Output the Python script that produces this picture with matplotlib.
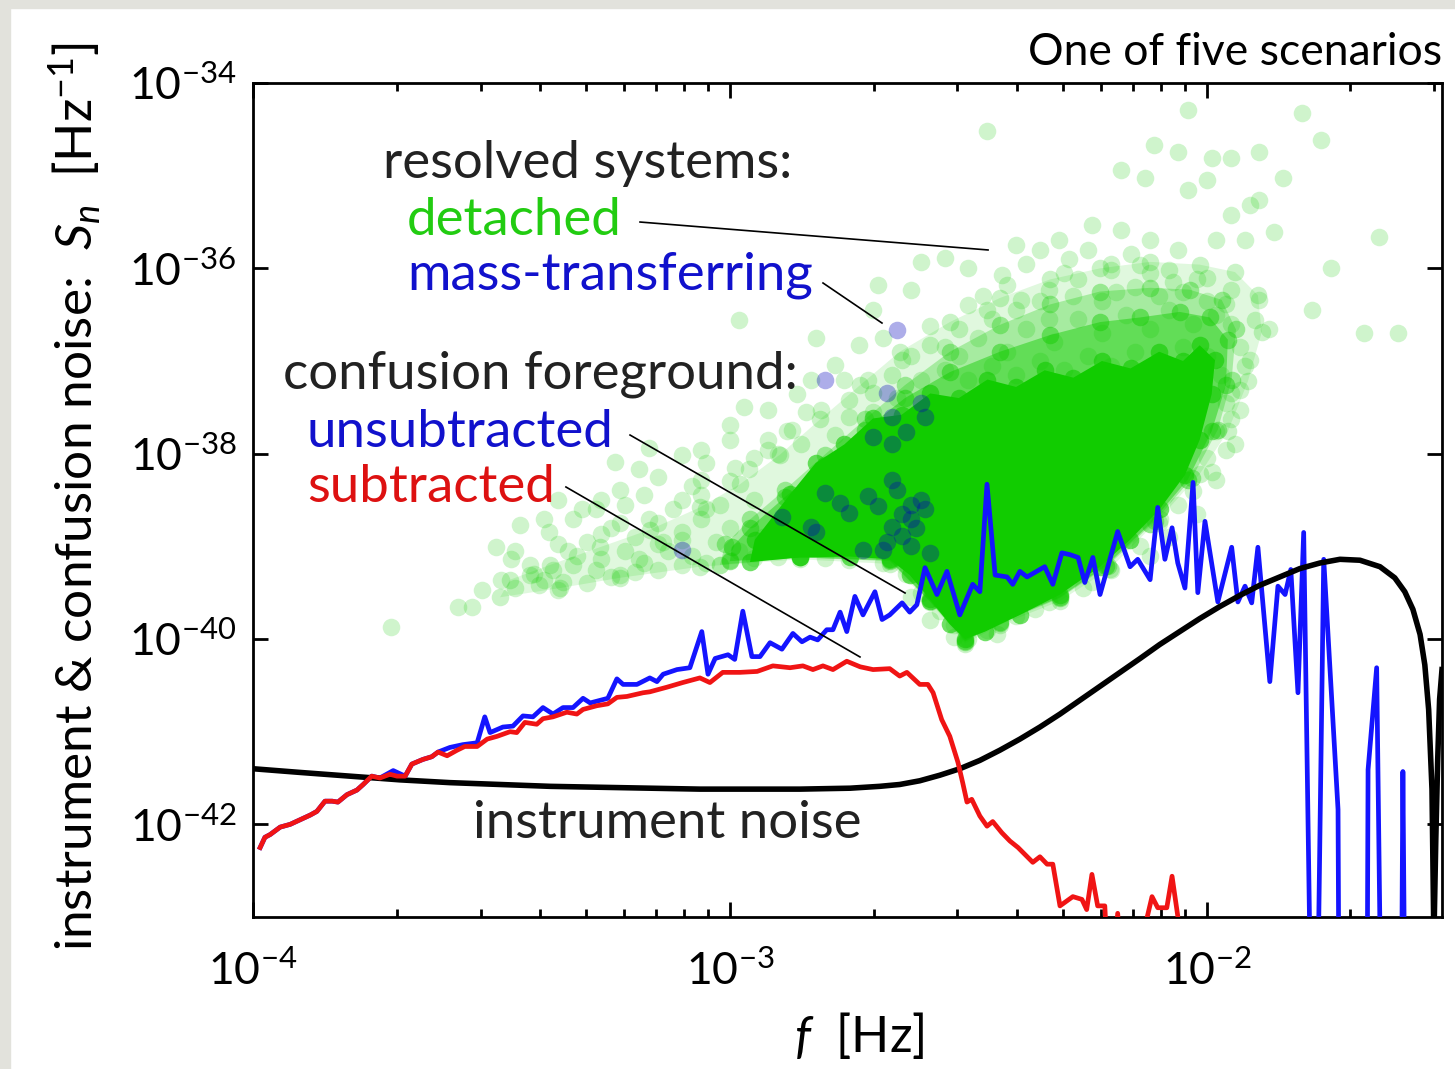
import matplotlib
matplotlib.use('Agg')
import matplotlib.pyplot as plt
import numpy as np
from matplotlib.patches import Rectangle
from matplotlib.ticker import LogLocator, NullLocator, NullFormatter

plt.rcParams['font.family'] = ['Lato', 'DejaVu Sans']
plt.rcParams['mathtext.fontset'] = 'custom'
plt.rcParams['mathtext.rm'] = 'Lato'
plt.rcParams['mathtext.it'] = 'Lato:italic'
plt.rcParams['mathtext.bf'] = 'Lato:bold'

# ---- data (log10 f [Hz], log10 S_n [1/Hz]) ----
subtracted = [
    (-3.985, -42.25), (-3.975, -42.14), (-3.964, -42.11), (-3.943, -42.03), (-3.922, -42.00),
    (-3.901, -41.95), (-3.880, -41.90), (-3.866, -41.86), (-3.849, -41.75), (-3.834, -41.75),
    (-3.822, -41.76), (-3.803, -41.68), (-3.782, -41.63), (-3.769, -41.57), (-3.751, -41.48),
    (-3.734, -41.50), (-3.713, -41.46), (-3.698, -41.48), (-3.681, -41.48), (-3.667, -41.35),
    (-3.644, -41.30), (-3.625, -41.27), (-3.612, -41.22), (-3.593, -41.26), (-3.572, -41.20),
    (-3.556, -41.16), (-3.530, -41.16), (-3.509, -41.08), (-3.488, -41.05), (-3.461, -41.00),
    (-3.447, -41.01), (-3.430, -40.90), (-3.405, -40.92), (-3.392, -40.86), (-3.371, -40.84),
    (-3.342, -40.79), (-3.321, -40.81), (-3.308, -40.76), (-3.279, -40.72), (-3.256, -40.70),
    (-3.237, -40.63), (-3.216, -40.62), (-3.182, -40.58), (-3.168, -40.57), (-3.132, -40.52),
    (-3.099, -40.47), (-3.063, -40.42), (-3.042, -40.47), (-3.015, -40.36), (-2.979, -40.36),
    (-2.943, -40.35), (-2.910, -40.29), (-2.874, -40.31), (-2.847, -40.29), (-2.826, -40.33),
    (-2.805, -40.29), (-2.784, -40.33), (-2.755, -40.24), (-2.727, -40.30), (-2.700, -40.33),
    (-2.665, -40.32), (-2.644, -40.40), (-2.629, -40.36), (-2.602, -40.49), (-2.585, -40.49),
    (-2.574, -40.58), (-2.556, -40.87), (-2.539, -41.05), (-2.522, -41.33), (-2.512, -41.55),
    (-2.503, -41.76), (-2.493, -41.73), (-2.476, -41.91), (-2.461, -42.02), (-2.449, -41.97),
    (-2.430, -42.09), (-2.413, -42.18), (-2.396, -42.25), (-2.365, -42.41), (-2.350, -42.35),
    (-2.335, -42.43), (-2.323, -42.43), (-2.308, -42.88), (-2.281, -42.78), (-2.262, -42.81),
    (-2.252, -42.92), (-2.241, -42.54), (-2.229, -42.88), (-2.214, -42.88), (-2.203, -44.0),
    (-2.187, -42.96), (-2.172, -44.0), (-2.140, -44.0), (-2.126, -43.02), (-2.115, -42.78),
    (-2.103, -42.90), (-2.084, -42.90), (-2.073, -42.56), (-2.061, -42.99), (-2.052, -44.0),
]

unsubtracted = subtracted[:16] + [
    (-3.706, -41.42), (-3.681, -41.48), (-3.667, -41.35), (-3.644, -41.30), (-3.625, -41.27),
    (-3.612, -41.22), (-3.587, -41.17), (-3.560, -41.14), (-3.530, -41.12), (-3.514, -40.84),
    (-3.503, -41.01), (-3.476, -40.95), (-3.455, -40.94), (-3.434, -40.83), (-3.413, -40.84),
    (-3.392, -40.74), (-3.371, -40.81), (-3.350, -40.74), (-3.329, -40.74), (-3.308, -40.64),
    (-3.293, -40.69), (-3.256, -40.64), (-3.237, -40.43), (-3.224, -40.49), (-3.195, -40.49),
    (-3.168, -40.42), (-3.153, -40.46), (-3.140, -40.38), (-3.111, -40.33), (-3.084, -40.31),
    (-3.059, -39.92), (-3.046, -40.38), (-3.031, -40.21), (-3.004, -40.17), (-2.990, -40.22),
    (-2.973, -39.70), (-2.954, -40.19), (-2.937, -40.19), (-2.916, -40.04), (-2.891, -40.11),
    (-2.868, -39.94), (-2.849, -40.03), (-2.832, -39.98), (-2.816, -40.01), (-2.797, -39.90),
    (-2.784, -39.90), (-2.769, -39.71), (-2.755, -39.92), (-2.738, -39.54), (-2.721, -39.74),
    (-2.696, -39.49), (-2.681, -39.79), (-2.665, -39.74), (-2.639, -39.61), (-2.623, -39.71),
    (-2.608, -39.63), (-2.591, -39.23), (-2.566, -39.52), (-2.545, -39.27), (-2.518, -39.74),
    (-2.491, -39.41), (-2.476, -39.49), (-2.461, -38.33), (-2.444, -39.31), (-2.419, -39.33),
    (-2.407, -39.41), (-2.392, -39.27), (-2.377, -39.33), (-2.340, -39.22), (-2.323, -39.41),
    (-2.304, -39.07), (-2.287, -39.09), (-2.270, -39.12), (-2.256, -39.39), (-2.239, -39.12),
    (-2.224, -39.52), (-2.187, -38.84), (-2.161, -39.22), (-2.145, -39.14), (-2.119, -39.36),
    (-2.103, -38.58), (-2.088, -39.14), (-2.073, -38.80), (-2.061, -39.18), (-2.046, -39.45),
    (-2.029, -38.31), (-2.019, -39.50), (-2.004, -38.73), (-1.977, -39.60), (-1.948, -39.01),
    (-1.935, -39.60), (-1.920, -39.43), (-1.906, -39.61), (-1.893, -39.01), (-1.868, -40.46),
    (-1.851, -39.43), (-1.836, -39.52), (-1.824, -39.25), (-1.809, -40.58), (-1.797, -38.85),
    (-1.782, -44.0), (-1.768, -44.0), (-1.755, -39.14), (-1.725, -41.84), (-1.723, -44.0),
    (-1.664, -44.0), (-1.662, -41.41), (-1.644, -40.31), (-1.635, -44.0), (-1.592, -44.0),
    (-1.589, -41.43), (-1.585, -44.0),
]

instrument = [
    (-4.000, -41.40), (-3.901, -41.44), (-3.797, -41.48), (-3.692, -41.52), (-3.587, -41.55),
    (-3.482, -41.57), (-3.377, -41.59), (-3.273, -41.60), (-3.168, -41.61), (-3.063, -41.62),
    (-2.958, -41.62), (-2.853, -41.62), (-2.748, -41.61), (-2.686, -41.59), (-2.644, -41.57),
    (-2.602, -41.53), (-2.560, -41.47), (-2.518, -41.40), (-2.476, -41.31), (-2.434, -41.20),
    (-2.392, -41.08), (-2.350, -40.95), (-2.308, -40.81), (-2.266, -40.66), (-2.224, -40.51),
    (-2.182, -40.36), (-2.140, -40.21), (-2.099, -40.06), (-2.057, -39.92), (-2.015, -39.78),
    (-1.973, -39.65), (-1.931, -39.53), (-1.889, -39.42), (-1.847, -39.33), (-1.805, -39.24),
    (-1.763, -39.18), (-1.721, -39.14), (-1.679, -39.15), (-1.637, -39.22), (-1.606, -39.34),
    (-1.585, -39.49), (-1.568, -39.68), (-1.553, -39.95), (-1.543, -40.28), (-1.535, -40.76),
    (-1.528, -41.62), (-1.524, -43.24), (-1.520, -42.16), (-1.516, -41.30), (-1.512, -40.65),
    (-1.507, -40.33),
]

# density outlines of the detached-binary cloud, from sparse to saturated
detached_outer = [
    (-3.482, -39.55), (-3.356, -39.45), (-3.231, -39.34), (-3.063, -39.22), (-2.853, -39.14),
    (-2.665, -39.19), (-2.581, -39.60), (-2.507, -40.05), (-2.434, -39.85), (-2.308, -39.59),
    (-2.203, -39.24), (-2.099, -38.70), (-2.015, -38.22), (-1.956, -37.76), (-1.914, -37.22),
    (-1.885, -36.69), (-1.893, -36.29), (-1.941, -36.04), (-2.015, -35.96), (-2.119, -35.93),
    (-2.224, -36.00), (-2.329, -36.12), (-2.434, -36.32), (-2.539, -36.58), (-2.644, -36.90),
    (-2.727, -37.26), (-2.811, -37.63), (-2.895, -38.01), (-2.979, -38.33), (-3.063, -38.58),
    (-3.168, -38.82), (-3.273, -39.01), (-3.377, -39.20), (-3.461, -39.36),
]

detached_dense = [
    (-3.021, -39.20), (-2.853, -39.12), (-2.665, -39.16), (-2.581, -39.59), (-2.507, -40.03),
    (-2.434, -39.83), (-2.308, -39.56), (-2.208, -39.21), (-2.109, -38.73), (-2.031, -38.26),
    (-1.977, -37.74), (-1.948, -37.20), (-1.939, -36.66), (-1.969, -36.34), (-2.036, -36.23),
    (-2.119, -36.21), (-2.224, -36.25), (-2.329, -36.39), (-2.434, -36.61), (-2.539, -36.90),
    (-2.633, -37.26), (-2.717, -37.63), (-2.801, -38.01), (-2.885, -38.39), (-2.958, -38.71),
    (-3.010, -38.98),
]

detached_heavy = [
    (-3.000, -39.16), (-2.853, -39.12), (-2.665, -39.15), (-2.581, -39.59), (-2.507, -40.02),
    (-2.434, -39.82), (-2.308, -39.55), (-2.212, -39.21), (-2.119, -38.76), (-2.040, -38.28),
    (-1.990, -37.76), (-1.960, -37.26), (-1.956, -36.77), (-1.994, -36.53), (-2.057, -36.47),
    (-2.140, -36.53), (-2.224, -36.58), (-2.329, -36.72), (-2.434, -36.90), (-2.539, -37.12),
    (-2.633, -37.40), (-2.717, -37.74), (-2.801, -38.12), (-2.885, -38.47), (-2.958, -38.80),
    (-2.996, -39.01),
]

detached_core = [
    (-2.958, -39.17), (-2.853, -39.12), (-2.748, -39.11), (-2.665, -39.14),
    (-2.623, -39.31), (-2.581, -39.57), (-2.539, -39.84), (-2.507, -40.00), (-2.465, -39.92),
    (-2.392, -39.74), (-2.308, -39.52), (-2.224, -39.22), (-2.161, -38.93), (-2.099, -38.60),
    (-2.046, -38.23), (-2.015, -37.85), (-1.990, -37.36), (-1.983, -36.99), (-2.015, -36.83),
    (-2.050, -37.00), (-2.100, -36.90), (-2.160, -37.08), (-2.220, -37.00), (-2.280, -37.18),
    (-2.340, -37.10), (-2.400, -37.28), (-2.460, -37.20), (-2.520, -37.40), (-2.580, -37.35),
    (-2.640, -37.58), (-2.700, -37.62), (-2.760, -37.90), (-2.820, -38.10), (-2.874, -38.44),
    (-2.948, -38.93),
]

detached = [
    # sparse outliers
    (-2.46, -34.52), (-2.04, -34.29), (-1.80, -34.32), (-2.11, -34.67), (-2.06, -34.74),
    (-1.99, -34.81), (-1.95, -34.81), (-1.89, -34.74), (-1.76, -34.62), (-1.84, -35.02),
    (-1.89, -35.26), (-2.18, -34.94), (-2.13, -35.02), (-2.04, -35.15), (-2.00, -35.05),
    (-1.95, -35.42), (-1.91, -35.32), (-1.86, -35.61), (-1.64, -35.66), (-1.74, -36.00),
    (-1.78, -36.45), (-1.67, -36.70), (-1.60, -36.70), (-1.92, -35.69), (-1.98, -35.69),
    (-2.06, -35.80), (-2.12, -35.69), (-2.18, -35.59), (-2.24, -35.53), (-2.31, -35.69),
    (-2.35, -35.80), (-2.40, -35.75), (-2.43, -36.07), (-2.50, -36.00), (-2.55, -35.89),
    (-2.60, -35.93), (-2.62, -36.23), (-2.69, -36.18), (-2.70, -36.45), (-2.73, -36.83),
    (-2.78, -37.04), (-2.83, -37.20), (-2.86, -37.36), (-2.92, -37.53), (-2.98, -36.56),
    (-2.82, -36.75), (-2.97, -37.50), (-3.00, -37.69), (-3.00, -37.85), (-3.06, -37.96),
    (-3.10, -38.01), (-3.17, -37.94), (-3.19, -38.17), (-3.24, -38.09), (-3.23, -38.39),
    (-3.27, -38.50), (-3.31, -38.60), (-3.36, -38.50), (-3.39, -38.71), (-3.44, -38.77),
    (-3.49, -39.01), (-3.46, -39.14), (-3.42, -39.31), (-3.39, -39.36), (-3.36, -39.47),
    (-3.48, -39.36), (-3.52, -39.47), (-3.57, -39.66), (-3.54, -39.66), (-3.71, -39.87),
    # low-frequency band
    (-3.33, -39.20), (-3.27, -39.14), (-3.23, -39.31), (-3.19, -39.14), (-3.15, -38.98),
    (-3.10, -38.93), (-3.06, -38.71), (-3.02, -38.55), (-3.17, -38.71), (-3.27, -38.87),
    (-3.36, -38.98), (-3.10, -38.50), (-3.06, -38.28), (-2.96, -38.17), (-2.92, -37.96),
    (-2.87, -37.74), (-2.81, -37.53), (-2.75, -37.42), (-2.71, -37.20), (-2.64, -36.99),
    (-2.58, -36.83), (-2.52, -36.66), (-2.46, -36.45), (-2.39, -36.34), (-2.33, -36.23),
    (-2.27, -36.12), (-2.20, -36.02), (-2.14, -35.96), (-2.08, -36.02), (-2.02, -36.12),
    (-1.95, -36.23), (-1.89, -36.34), (-1.87, -36.66), (-1.91, -36.99), (-1.93, -37.31),
    (-1.95, -37.63), (-1.96, -37.96), (-1.98, -38.28), (-1.93, -37.53), (-1.90, -36.56),
    (-3.45, -39.45), (-3.40, -39.42), (-3.35, -39.38), (-3.30, -39.40), (-3.25, -39.33),
    (-3.20, -39.28), (-3.15, -39.25), (-3.10, -39.20), (-3.05, -39.18), (-3.00, -39.15),
    (-2.95, -39.13), (-2.90, -39.12), (-3.42, -39.20), (-3.37, -39.25), (-3.32, -39.10),
    (-3.28, -39.25), (-3.22, -39.05), (-3.18, -39.18), (-3.13, -39.05), (-3.08, -39.10),
    (-3.03, -38.95), (-2.98, -39.05), (-2.93, -38.90), (-3.30, -38.95), (-3.25, -38.80),
    (-3.20, -38.90), (-3.15, -38.75), (-3.10, -38.85), (-3.05, -38.60), (-3.00, -38.80),
    (-2.95, -38.50), (-3.12, -38.60), (-3.18, -38.45), (-3.08, -38.35), (-3.00, -38.30),
    (-2.95, -38.05), (-3.38, -38.85), (-3.33, -38.70), (-3.45, -39.05), (-3.28, -38.60),
    (-3.22, -38.55), (-3.15, -38.25), (-3.05, -38.10), (-2.90, -38.00), (-2.85, -37.90),
    (-2.88, -37.75),
    # above the dense core
    (-2.60, -37.20), (-2.55, -37.10), (-2.50, -37.20), (-2.45, -37.05), (-2.40, -37.15),
    (-2.35, -37.00), (-2.30, -37.10), (-2.25, -36.95), (-2.20, -37.05), (-2.15, -36.90),
    (-2.10, -37.00), (-2.05, -36.85), (-2.00, -36.95), (-2.55, -36.85), (-2.48, -36.75),
    (-2.42, -36.90), (-2.38, -36.65), (-2.32, -36.80), (-2.27, -36.55), (-2.22, -36.70),
    (-2.17, -36.50), (-2.12, -36.65), (-2.08, -36.45), (-2.03, -36.60), (-1.98, -36.50),
    (-2.45, -36.55), (-2.40, -36.45), (-2.35, -36.35), (-2.28, -36.30), (-2.22, -36.35),
    (-2.15, -36.20), (-2.10, -36.30), (-2.05, -36.25), (-2.00, -36.35), (-1.95, -36.60),
    (-1.93, -36.85), (-2.62, -36.95), (-2.66, -37.15), (-2.70, -37.35), (-2.75, -37.60),
    (-2.78, -37.80), (-2.70, -37.55), (-2.65, -37.40), (-2.50, -36.40), (-2.30, -36.05),
    (-2.20, -35.95), (-2.12, -36.05), (-2.25, -35.80), (-2.38, -35.95), (-2.00, -36.10),
    (-2.58, -36.62), (-2.52, -36.95), (-2.47, -36.30), (-2.33, -36.55), (-2.19, -36.25),
    (-2.07, -36.15), (-1.96, -36.38), (-2.42, -36.18), (-2.16, -35.85), (-2.29, -35.90),
    (-2.68, -36.75), (-2.76, -37.20), (-2.84, -37.55), (-2.92, -37.85), (-2.99, -38.15),
    (-3.06, -38.45), (-3.14, -38.95), (-3.23, -38.75), (-3.34, -39.05), (-3.41, -39.30),
    # edges of the dense core
    (-1.97, -37.15), (-1.96, -37.45), (-1.98, -37.75), (-2.00, -38.05), (-2.03, -38.40),
    (-2.06, -38.55), (-2.10, -38.75), (-2.14, -39.00), (-2.20, -39.25), (-2.26, -39.45),
    (-2.33, -39.60), (-2.40, -39.75), (-2.46, -39.90), (-2.50, -40.00), (-1.94, -37.90),
    (-1.99, -38.20), (-2.08, -38.90), (-2.53, -39.85), (-2.56, -39.70), (-2.60, -39.50),
    (-2.63, -39.30), (-2.68, -39.18), (-2.75, -39.15), (-2.80, -39.13),
    (-2.02, -38.65), (-2.12, -39.10), (-2.24, -39.38), (-2.36, -39.68), (-2.44, -39.95),
    (-2.53, -39.98), (-2.58, -39.80), (-2.62, -39.55), (-1.95, -37.35), (-1.92, -37.05),
]

mass_transferring = [
    (-2.65, -36.67), (-2.80, -37.21), (-2.67, -37.34), (-2.70, -37.82), (-2.66, -37.90),
    (-2.63, -37.77), (-2.66, -37.60), (-2.59, -37.60), (-2.60, -37.45), (-2.80, -38.42),
    (-2.77, -38.53), (-2.75, -38.64), (-2.71, -38.46), (-2.69, -38.57), (-2.66, -38.28),
    (-2.65, -38.39), (-2.62, -38.71), (-2.66, -38.79), (-2.64, -38.89), (-2.62, -39.00),
    (-2.72, -39.04), (-2.68, -39.04), (-2.60, -38.50), (-2.59, -38.60), (-2.58, -39.07),
    (-2.82, -38.85), (-2.83, -38.79), (-2.89, -38.68), (-3.10, -39.04), (-2.62, -38.55),
    (-2.61, -38.80), (-2.64, -38.65), (-2.67, -38.95),
]

GREEN = '#11cc00'
BLUE = '#1414ff'
RED = '#f01414'


def to_lin(pts):
    a = np.array(pts)
    return 10 ** a[:, 0], 10 ** a[:, 1]


fig = plt.figure(figsize=(14.55, 10.69), dpi=100)
fig.patch.set_facecolor('white')
fig.add_artist(Rectangle((0, 0), 10 / 1455, 1, transform=fig.transFigure, color='#e2e2dc', zorder=0))
fig.add_artist(Rectangle((0, 1 - 8 / 1069), 1, 8 / 1069, transform=fig.transFigure, color='#e2e2dc', zorder=0))

ax = fig.add_axes([253 / 1455, 1 - 917 / 1069, 1189 / 1455, 834 / 1069])
ax.set_xscale('log')
ax.set_yscale('log')

# detached systems: density washes, dots along their rims, individual points
layers = [(detached_outer, 0.13, 0.22), (detached_dense, 0.28, 0.35),
          (detached_heavy, 0.45, 0.45), (detached_core, 1.0, 0.6)]
for poly, a, dot_a in layers:
    px, py = to_lin(poly)
    ax.fill(px, py, color=GREEN, alpha=a, lw=0, zorder=1)
    ax.scatter(px, py, s=160, color=GREEN, alpha=dot_a, linewidths=0, zorder=1.5)
dx, dy = to_lin(detached)
ax.scatter(dx, dy, s=160, color=GREEN, alpha=0.2, linewidths=0, zorder=2)
mx, my = to_lin(mass_transferring)
ax.scatter(mx, my, s=160, color='#0000bb', alpha=0.32, linewidths=0, zorder=3)

ux, uy = to_lin(unsubtracted)
ax.plot(ux, uy, color=BLUE, lw=3.4, zorder=4)
ix, iy = to_lin(instrument)
ax.plot(ix, iy, color='black', lw=4.0, zorder=5)
sx, sy = to_lin(subtracted)
ax.plot(sx, sy, color=RED, lw=3.4, zorder=6)

ax.set_xlim(1e-4, 10 ** -1.507)
ax.set_ylim(1e-43, 1e-34)
ax.set_yticks([1e-42, 1e-40, 1e-38, 1e-36, 1e-34])
ax.yaxis.set_minor_locator(NullLocator())
ax.xaxis.set_major_locator(LogLocator(base=10, numticks=10))
ax.xaxis.set_minor_locator(LogLocator(base=10, subs=np.arange(2, 10), numticks=20))
ax.xaxis.set_minor_formatter(NullFormatter())
ax.tick_params(which='both', direction='in', top=True, right=True, width=2)
ax.tick_params(which='major', length=11, labelsize=32)
ax.tick_params(axis='y', which='major', pad=12)
ax.tick_params(axis='x', which='major', pad=24)
ax.tick_params(which='minor', length=6)
for sp in ax.spines.values():
    sp.set_linewidth(2)

ax.set_ylabel(r'instrument & confusion noise:  $S_n$  [Hz$^{-1}$]', fontsize=37, va='center')
ax.yaxis.set_label_coords(-0.150, 0.504)
ax.set_xlabel(r'$f$  [Hz]', fontsize=36, va='center')
ax.xaxis.set_label_coords(0.51, -0.142)

ax.text(1.0, 1.037, 'One of five scenarios', transform=ax.transAxes, ha='right', va='center', fontsize=32)

fs = 38
ax.text(0.109, 0.886, 'resolved systems:', transform=ax.transAxes, fontsize=fs, color='#222222', va='baseline')
ax.text(0.1295, 0.818, 'detached', transform=ax.transAxes, fontsize=fs, color='#22cc11', va='baseline')
ax.text(0.1295, 0.752, 'mass-transferring', transform=ax.transAxes, fontsize=fs, color='#1111cc', va='baseline')
ax.text(0.0252, 0.634, 'confusion foreground:', transform=ax.transAxes, fontsize=fs, color='#222222', va='baseline')
ax.text(0.0454, 0.5636, 'unsubtracted', transform=ax.transAxes, fontsize=fs, color='#1111cc', va='baseline')
ax.text(0.0454, 0.4976, 'subtracted', transform=ax.transAxes, fontsize=fs, color='#dd1111', va='baseline')
ax.text(0.185, 0.0947, 'instrument noise', transform=ax.transAxes, fontsize=fs, color='#222222', va='baseline')

# leader lines
for (x0, y0), (x1, y1) in [((0.3255, 0.8333), (0.6182, 0.7998)),
                           ((0.4794, 0.7602), (0.5290, 0.7122)),
                           ((0.3171, 0.5779), (0.5484, 0.3885)),
                           ((0.2632, 0.5156), (0.5105, 0.3118))]:
    ax.plot([x0, x1], [y0, y1], transform=ax.transAxes, color='black', lw=1.2, zorder=7)

fig.savefig('out.png', dpi=100)
